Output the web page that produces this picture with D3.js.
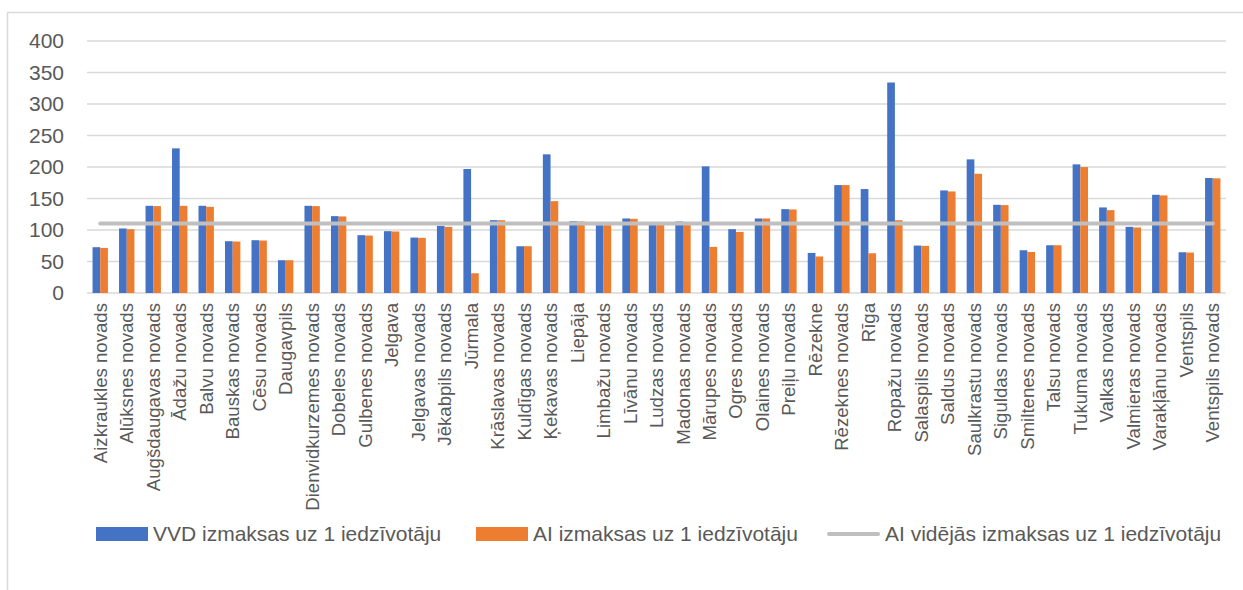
<!DOCTYPE html>
<html>
<head>
<meta charset="utf-8">
<script src="https://cdn.jsdelivr.net/npm/d3@7"></script>
<style>
  body { margin: 0; background: #fff; }
  svg { display: block; font-family: "Liberation Sans", Arial, sans-serif; }
</style>
</head>
<body>
<svg id="chart"></svg>
<script>
// municipalities (x axis)
const categories = [
  "Aizkraukles novads", "Alūksnes novads", "Augšdaugavas novads", "Ādažu novads",
  "Balvu novads", "Bauskas novads", "Cēsu novads", "Daugavpils",
  "Dienvidkurzemes novads", "Dobeles novads", "Gulbenes novads", "Jelgava",
  "Jelgavas novads", "Jēkabpils novads", "Jūrmala", "Krāslavas novads",
  "Kuldīgas novads", "Ķekavas novads", "Liepāja", "Limbažu novads",
  "Līvānu novads", "Ludzas novads", "Madonas novads", "Mārupes novads",
  "Ogres novads", "Olaines novads", "Preiļu novads", "Rēzekne",
  "Rēzeknes novads", "Rīga", "Ropažu novads", "Salaspils novads",
  "Saldus novads", "Saulkrastu novads", "Siguldas novads", "Smiltenes novads",
  "Talsu novads", "Tukuma novads", "Valkas novads", "Valmieras novads",
  "Varakļānu novads", "Ventspils", "Ventspils novads"
];

// VVD izmaksas uz 1 iedzīvotāju
const vvdValues = [
  72.7, 102.4, 138.4, 229.6, 138.4, 82.2, 83.8, 52, 138.4, 122,
  91.8, 98.1, 88, 106.6, 196.8, 115.6, 74.2, 220.1, 114, 107.7,
  118.3, 112.4, 113.5, 201, 101.3, 118.3, 133.1, 63.6, 171.3, 165,
  334.1, 75.3, 162.8, 212.1, 140, 67.9, 75.8, 204.2, 135.8, 105,
  155.9, 64.7, 182.5
];

// AI izmaksas uz 1 iedzīvotāju
const aiValues = [
  71.6, 101.3, 137.9, 138.4, 136.8, 81.7, 83.3, 52, 137.9, 121.5,
  91.2, 97.6, 87.5, 105, 31.3, 115.6, 74.2, 145.8, 113.5, 107.7,
  117.7, 111.9, 111.9, 73.2, 97, 118.3, 132.6, 58, 171.3, 63.1,
  115.6, 74.8, 161.2, 189.3, 139.5, 65.2, 75.8, 199.9, 131.5, 104,
  154.9, 64.2, 182
];

// AI vidējās izmaksas uz 1 iedzīvotāju (flat line)
const aiAverage = 110.4;

const yTicks = [0, 50, 100, 150, 200, 250, 300, 350, 400];

const seriesNames = [
  "VVD izmaksas uz 1 iedzīvotāju",
  "AI izmaksas uz 1 iedzīvotāju",
  "AI vidējās izmaksas uz 1 iedzīvotāju"
];

const width = 1243;
const height = 590;
const textColor = "#595959";
const gridColor = "#d9d9d9";
const blue = "#4472c4";
const orange = "#ed7d31";
const grey = "#bfbfbf";

const svg = d3.select("#chart")
  .attr("width", width)
  .attr("height", height);

// outer chart frame (runs off the right / bottom edge)
svg.append("rect")
  .attr("x", 7.5).attr("y", 12.5)
  .attr("width", 1400).attr("height", 800)
  .attr("fill", "none")
  .attr("stroke", gridColor)
  .attr("stroke-width", 1.5);

// scales
const x = d3.scaleBand()
  .domain(categories)
  .range([87, 1226])
  .paddingInner(0.42)
  .paddingOuter(0.21);

const xSeries = d3.scaleBand()
  .domain(["vvd", "ai"])
  .range([0, x.bandwidth()]);

const y = d3.scaleLinear()
  .domain([0, 400])
  .range([293, 41]);

// gridlines
svg.append("g")
  .selectAll("line")
  .data(yTicks)
  .join("line")
  .attr("x1", 87).attr("x2", 1226)
  .attr("y1", d => y(d)).attr("y2", d => y(d))
  .attr("stroke", gridColor)
  .attr("stroke-width", 1.5);

// y axis labels
const yAxis = svg.append("g")
  .attr("transform", "translate(64,0)")
  .call(d3.axisLeft(y).tickValues(yTicks).tickSize(0).tickPadding(0));
yAxis.select(".domain").remove();
yAxis.selectAll("text")
  .attr("fill", textColor)
  .style("font-size", "21px")
  .style("font-family", "'Liberation Sans', Arial, sans-serif");

// bars
const groups = svg.append("g")
  .selectAll("g")
  .data(categories)
  .join("g")
  .attr("transform", d => `translate(${x(d)},0)`);

groups.append("rect")
  .attr("x", xSeries("vvd"))
  .attr("width", xSeries.bandwidth())
  .attr("y", (d, i) => y(vvdValues[i]))
  .attr("height", (d, i) => y(0) - y(vvdValues[i]))
  .attr("fill", blue);

groups.append("rect")
  .attr("x", xSeries("ai"))
  .attr("width", xSeries.bandwidth())
  .attr("y", (d, i) => y(aiValues[i]))
  .attr("height", (d, i) => y(0) - y(aiValues[i]))
  .attr("fill", orange);

// average line across category centers
const line = d3.line()
  .x(d => x(d) + x.bandwidth() / 2)
  .y(() => y(aiAverage));

svg.append("path")
  .datum([categories[0], categories[categories.length - 1]])
  .attr("d", line)
  .attr("fill", "none")
  .attr("stroke", grey)
  .attr("stroke-width", 4)
  .attr("stroke-linecap", "round");

// x axis labels, rotated
const xAxis = svg.append("g")
  .attr("transform", "translate(0,303)")
  .call(d3.axisBottom(x).tickSize(0).tickPadding(0));
xAxis.select(".domain").remove();
xAxis.selectAll("text")
  .attr("transform", "rotate(-90)")
  .attr("x", 0)
  .attr("y", 0)
  .attr("dy", "0.35em")
  .attr("text-anchor", "end")
  .attr("fill", textColor)
  .style("font-size", "18.6px")
  .style("font-family", "'Liberation Sans', Arial, sans-serif");

// legend
const legendY = 534;
const legendX = [96, 476, 827];
const legend = svg.append("g")
  .selectAll("g")
  .data(seriesNames)
  .join("g")
  .attr("transform", (d, i) => `translate(${legendX[i]},${legendY})`);

legend.filter((d, i) => i < 2)
  .append("rect")
  .attr("x", 0).attr("y", -7)
  .attr("width", 52).attr("height", 14)
  .attr("fill", (d, i) => i === 0 ? blue : orange);

legend.filter((d, i) => i === 2)
  .append("line")
  .attr("x1", 2).attr("x2", 51)
  .attr("y1", 0).attr("y2", 0)
  .attr("stroke", grey)
  .attr("stroke-width", 4)
  .attr("stroke-linecap", "round");

legend.append("text")
  .attr("x", (d, i) => i === 2 ? 58 : 57)
  .attr("y", 0)
  .attr("dy", "0.35em")
  .attr("fill", textColor)
  .style("font-size", "21px")
  .text(d => d);
</script>
</body>
</html>
